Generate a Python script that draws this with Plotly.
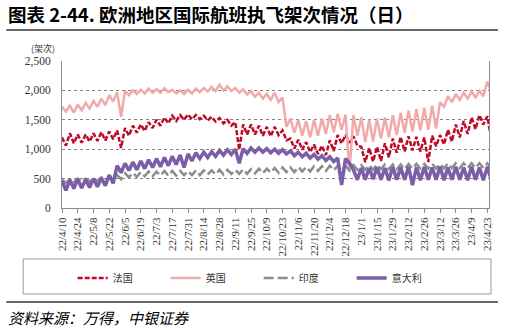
import pandas as pd
import plotly.graph_objects as go

# Samples twice a week (weekly peak / trough), starting 2022-04-10
start_date = "2022-04-10"
step = "84h"

uk = [1720,1640, 1740,1620, 1760,1660, 1790,1690, 1820,1720, 1860,1750, 1920,1810, 1970,1550,
      1990,1920, 2000,1940, 2010,1950, 2030,1960, 2020,1960, 2040,1970, 2010,1950, 2000,1940,
      2010,1950, 2030,1970, 2040,1980, 2060,1990, 2100,2000, 2070,1990, 2040,1960, 2020,1930,
      1990,1890, 1960,1860, 1940,1840, 1960,1800, 1880,1380, 1520,1280, 1500,1230, 1480,1200,
      1500,1230, 1520,1260, 1580,1290, 1600,1330, 1590,620, 1580,1230, 1540,1120, 1500,1130,
      1520,1180, 1540,1200, 1580,1240, 1620,1280, 1660,1300, 1680,1320, 1700,1330, 1740,1350,
      1800,1720, 1900,1800, 1940,1840, 1960,1860, 1980,1880, 1990,1900, 2150,1970]

france = [1200,1060, 1270,1100, 1250,1110, 1250,1130, 1270,1140, 1290,1150, 1300,1170, 1320,1020,
          1360,1230, 1400,1280, 1420,1310, 1460,1360, 1500,1400, 1540,1440, 1570,1480, 1580,1500,
          1590,1510, 1580,1510, 1570,1490, 1550,1470, 1530,1440, 1500,1400, 1460,990, 1420,1250,
          1420,1250, 1400,1230, 1380,1220, 1380,1240, 1320,1150, 1180,1010, 1160,990, 1120,950,
          1080,920, 1060,900, 1150,970, 1240,1100, 1240,1110, 1220,1060, 1040,780, 1020,790,
          1040,800, 1100,860, 1180,940, 1210,960, 1220,980, 1210,960, 1200,780, 1230,1050,
          1240,1080, 1330,1130, 1420,1200, 1480,1260, 1540,1340, 1580,1420, 1560,1180]

india = [480,430, 490,440, 500,450, 500,450, 510,460, 520,470, 530,480, 560,490,
         590,520, 600,530, 610,540, 620,540, 620,550, 630,550, 630,550, 630,560,
         630,560, 640,560, 640,570, 640,570, 650,570, 650,580, 650,580, 660,580,
         660,590, 670,590, 670,600, 680,600, 690,610, 690,610, 700,620, 700,620,
         710,630, 710,630, 720,640, 720,640, 720,640, 730,650, 730,650, 730,650,
         740,660, 740,660, 740,660, 740,660, 750,670, 750,670, 750,670, 750,670,
         750,670, 760,680, 760,680, 760,680, 760,680, 760,680, 760,680]

italy = [460,300, 480,330, 490,340, 490,350, 500,360, 510,380, 560,420, 720,600,
         760,640, 780,650, 800,670, 820,690, 840,700, 860,720, 880,740, 900,690,
         920,800, 940,840, 950,860, 960,880, 980,900, 990,910, 1000,760, 1010,930,
         1020,950, 1020,950, 1010,940, 1000,930, 990,920, 970,890, 950,870, 930,850,
         910,830, 890,810, 870,790, 850,390, 840,760, 650,480, 680,480, 680,490,
         690,480, 680,470, 700,480, 690,480, 700,390, 690,470, 700,480, 690,480,
         700,470, 690,480, 700,480, 690,470, 700,480, 690,470, 700,480]

names = ["法国", "英国", "印度", "意大利"]
title = "图表 2-44. 欧洲地区国际航班执飞架次情况（日）"
source = "资料来源：万得，中银证券"
unit = "(架次)"

dates = pd.date_range(start_date, periods=len(uk), freq=step)

series = [
    (names[0], france, dict(color="#BE0A28", width=2.5, dash="5px,2px")),
    (names[1], uk, dict(color="#F0AAAA", width=2.5)),
    (names[2], india, dict(color="#8C8C8C", width=2.5, dash="10px,4px")),
    (names[3], italy, dict(color="#7B5EA7", width=3.5)),
]

fig = go.Figure()
for nm, vals, ln in series:
    fig.add_trace(go.Scatter(x=dates, y=vals, name=nm, mode="lines", line=ln))

serif = "Liberation Serif, Times New Roman, serif"
cjk = "Noto Sans CJK SC, sans-serif"

fig.update_layout(
    width=505, height=330,
    margin=dict(l=62, r=14, t=61, b=122),
    paper_bgcolor="white", plot_bgcolor="white",
    showlegend=True,
    legend=dict(orientation="h", x=0.025, y=-0.476, xanchor="left", yanchor="middle",
                font=dict(family=cjk, size=10, color="#333"),
                entrywidth=48, entrywidthmode="pixels", itemwidth=30,
                bgcolor="rgba(0,0,0,0)"),
    xaxis=dict(
        type="date",
        range=["2022-04-10", "2023-04-24 12:00"],
        tick0="2022-04-10", dtick=14 * 86400000,
        tickformat="%y/%-m/%-d", tickangle=-90,
        tickfont=dict(family=serif, size=11, color="#333"),
        showline=True, linecolor="#8c8c8c", linewidth=1,
        ticks="outside", ticklen=4, tickcolor="#8c8c8c",
        showgrid=False, zeroline=False,
    ),
    yaxis=dict(
        range=[0, 2500], dtick=500, tickformat=",",
        tickfont=dict(family=serif, size=11.5, color="#333"),
        showline=True, linecolor="#8c8c8c", linewidth=1, mirror=True,
        showgrid=True, gridcolor="#808080", griddash="dot", gridwidth=1,
        zeroline=False, ticklabelstandoff=8,
    ),
)

shapes = [
    dict(type="line", xref="paper", yref="paper", x0=-0.1305, x1=1.0210, y0=1.2109, y1=1.2109,
         line=dict(color="#333", width=1.5)),
    dict(type="rect", xref="paper", yref="paper", x0=-0.0909, x1=1.0047, y0=-0.347, y1=-0.585,
         line=dict(color="#999", width=1)),
    dict(type="line", xref="paper", yref="paper", x0=-0.1305, x1=1.0210, y0=-0.6395, y1=-0.6395,
         line=dict(color="#333", width=1.5)),
]
fig.update_layout(shapes=shapes)

fig.add_annotation(xref="paper", yref="paper", x=-0.1305, y=1.3197, xanchor="left", yanchor="middle",
                   text="<b>" + title + "</b>", showarrow=False,
                   font=dict(family=cjk, size=18.5, color="#000"))
fig.add_annotation(xref="paper", yref="paper", x=-0.0443, y=1.088, xanchor="center", yanchor="middle",
                   text=unit, showarrow=False, font=dict(family=cjk, size=9, color="#333"))
fig.add_annotation(xref="paper", yref="paper", x=-0.1305, y=-0.7415, xanchor="left", yanchor="middle",
                   text="<i>" + source + "</i>", showarrow=False,
                   font=dict(family=cjk, size=15, color="#000"))

fig.write_html("out.html")
